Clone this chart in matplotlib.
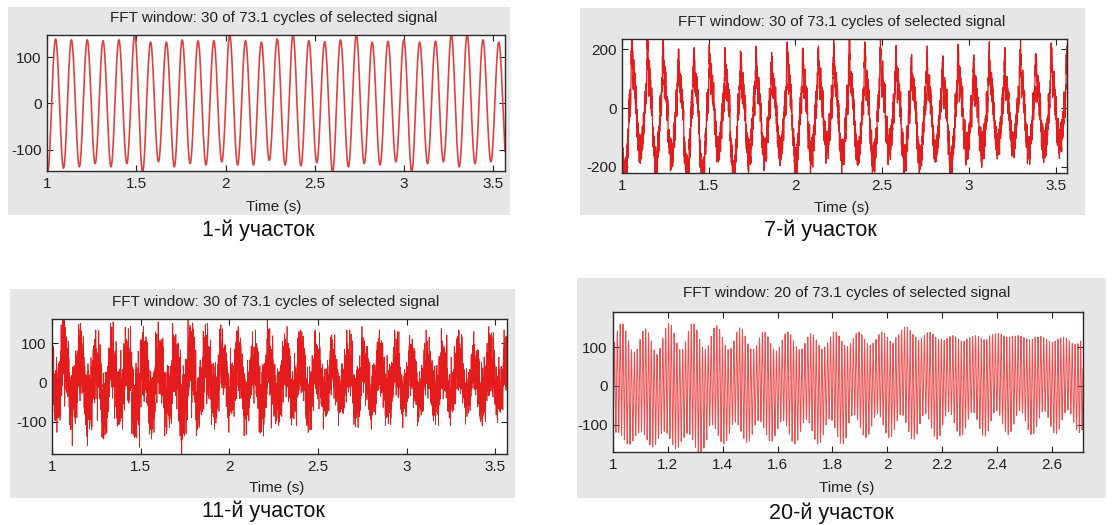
import numpy as np
import matplotlib
matplotlib.use("Agg")
import matplotlib.pyplot as plt
from matplotlib.patches import Rectangle

plt.rcParams['font.family'] = ['Liberation Sans', 'DejaVu Sans']

W, H = 1112, 525

# ---------------- data ----------------
TITLES = ["FFT window: 30 of 73.1 cycles of selected signal",
          "FFT window: 30 of 73.1 cycles of selected signal",
          "FFT window: 30 of 73.1 cycles of selected signal",
          "FFT window: 20 of 73.1 cycles of selected signal"]
CAPTIONS = ["1-й участок", "7-й участок", "11-й участок", "20-й участок"]
XLABEL = "Time (s)"

X_TICKS_A = [1, 1.5, 2, 2.5, 3, 3.5]
X_TICKLABELS_A = ["1", "1.5", "2", "2.5", "3", "3.5"]
X_TICKS_B = [1, 1.2, 1.4, 1.6, 1.8, 2, 2.2, 2.4, 2.6]
X_TICKLABELS_B = ["1", "1.2", "1.4", "1.6", "1.8", "2", "2.2", "2.4", "2.6"]
Y_TICKS_100 = [-100, 0, 100]
Y_TICKS_200 = [-200, 0, 200]

XLIM_A = (1.0, 3.565)
XLIM_B = (1.0, 2.713)
YLIM_1 = (-146, 147.5)
YLIM_2 = (-221, 235)
YLIM_3 = (-182, 162)
YLIM_4 = (-171, 191)

# panel 1: pure sinusoid, per-cycle peaks / troughs
P1_F0 = 11.28
P1_T_PEAK = 1.048
P1_PEAKS = [139, 137, 137, 135, 137, 148, 132, 132, 137, 135, 135, 148, 135, 132,
            139, 148, 135, 133, 137, 148, 132, 134, 137, 132, 134, 148, 148, 137, 132, 140]
P1_TROUGHS = [-148, -140, -137, -130, -137, -130, -148, -126, -137, -130, -133, -126, -133, -133, -123,
              -133, -135, -128, -148, -137, -130, -133, -126, -148, -130, -126, -137, -130, -126, -133]

# panel 2: spiky distorted wave, harmonic content + high-frequency ripple
P2_F0 = 11.17
P2_T_PEAK = 1.057
P2_TROUGH_PHASE = 0.53
P2_HARM_N = [1, 2, 3, 4, 5, 6, 7]
P2_HARM_A = [1.0, 0.18, 0.13, 0.13, 0.13, 0.13, 0.13]
P2_HARM_P = [-0.31, -0.4, 0.0, 0.0, 0.0, 0.0, 0.0]
P2_PEAKS = [240, 220, 223, 175, 186, 177, 164, 175, 175, 158, 198, 177, 181, 209,
            203, 203, 211, 181, 153, 164, 141, 186, 164, 186, 158, 198, 175, 209, 181, 190]
P2_TROUGHS = [-228, -141, -198, -175, -228, -228, -153, -228, -175, -164, -158, -181, -164, -136, -170,
              -170, -181, -147, -181, -187, -153, -203, -153, -153, -141, -124, -153, -141, -136, -150]
P2_RIPPLE_F = [87.0, 143.0, 311.0, 467.0, 619.0, 773.0]
P2_RIPPLE_A = [12, 14, 16, 15, 13, 11]
P2_RIPPLE_P = [0.7, 2.1, 4.0, 1.3, 5.5, 3.2]

# panel 3: fundamental buried in strong high-frequency content
P3_F0 = 11.25
P3_COMP_F = [11.25, 33.75, 71.3, 118.6, 163.2, 409.7, 523.1, 657.9, 791.3, 913.7]
P3_COMP_A = [55, 15, 22, 20, 18, 24, 22, 20, 18, 16]
P3_COMP_P = [-0.3, 1.2, 0.4, 2.3, 4.1, 1.7, 5.2, 3.0, 0.9, 2.6]
P3_TOPS = [165, 151, 134, 155, 143, 143, 155, 151, 165, 151, 147, 143, 134, 165, 143,
           134, 134, 122, 134, 143, 134, 134, 130, 134, 138, 134, 130, 143, 134, 117]
P3_BOTTOMS = [-127, -161, -161, -144, -119, -165, -144, -136, -185, -136, -119, -127, -136, -136, -110,
              -110, -127, -119, -110, -115, -119, -110, -115, -110, -110, -110, -106, -110, -102, -60]

# panel 4: dense carrier with slow envelope
P4_F0 = 11.68
P4_COMP_F = [11.68, 96.5, 107.9]
P4_COMP_A = [20, 110, 16]
P4_COMP_P = [0.0, 0.0, 1.1]
P4_TOPS = [160, 148, 162, 160, 156, 150, 139, 140, 135, 139, 139, 139, 152, 139, 130, 130, 135, 130, 128, 126]
P4_BOTTOMS = [-151, -158, -162, -175, -150, -146, -143, -150, -150, -150, -134, -134, -138, -138, -130,
              -130, -126, -126, -124, -121]

# ---------------- signal assembly ----------------
def harmonic_sum(u, ns, amps, phases):
    return sum(a * np.cos(2 * np.pi * n * u + p) for n, a, p in zip(ns, amps, phases))


def tone_sum(t, freqs, amps, phases):
    return sum(a * np.cos(2 * np.pi * f * t + p) for f, a, p in zip(freqs, amps, phases))


def lobe_scaled(t, f0, t_peak, base, peaks, troughs, trough_phase):
    u = (t - t_peak) * f0
    b = base(u)
    g = base(np.linspace(0, 1, 4001))
    bp = np.where(b >= 0, b / g.max(), 0.0)
    bn = np.where(b < 0, b / -g.min(), 0.0)
    kp = np.clip(np.round(u).astype(int), 0, len(peaks) - 1)
    kn = np.clip(np.round(u - trough_phase).astype(int) + 1, 0, len(troughs) - 1)
    return bp * np.asarray(peaks)[kp] - bn * np.asarray(troughs)[kn]


def cycle_envelope(t, raw, t0, f0, tops, bottoms):
    k = np.clip(((t - t0) * f0).astype(int), 0, len(tops) - 1)
    y = raw.copy()
    for i in range(len(tops)):
        m = k == i
        if not m.any():
            continue
        seg = raw[m]
        mx = seg.max() if seg.max() > 0 else 1.0
        mn = seg.min() if seg.min() < 0 else -1.0
        y[m] = np.where(seg >= 0, seg * tops[i] / mx, seg * bottoms[i] / mn)
    return y


t1 = np.linspace(XLIM_A[0], XLIM_A[1], 3000)
y1 = lobe_scaled(t1, P1_F0, P1_T_PEAK, lambda u: np.cos(2 * np.pi * u),
                 P1_PEAKS, P1_TROUGHS, 0.5)

t2 = np.linspace(XLIM_A[0], XLIM_A[1], 30000)
y2 = lobe_scaled(t2, P2_F0, P2_T_PEAK,
                 lambda u: harmonic_sum(u, P2_HARM_N, P2_HARM_A, P2_HARM_P),
                 P2_PEAKS, P2_TROUGHS, P2_TROUGH_PHASE)
y2 = y2 + tone_sum(t2, P2_RIPPLE_F, P2_RIPPLE_A, P2_RIPPLE_P)

t3 = np.linspace(XLIM_A[0], XLIM_A[1], 40000)
raw3 = tone_sum(t3, P3_COMP_F, P3_COMP_A, P3_COMP_P)
y3 = cycle_envelope(t3, raw3, XLIM_A[0], P3_F0, P3_TOPS, P3_BOTTOMS)

t4 = np.linspace(XLIM_B[0], XLIM_B[1], 12000)
raw4 = tone_sum(t4, P4_COMP_F, P4_COMP_A, P4_COMP_P)
y4 = cycle_envelope(t4, raw4, XLIM_B[0], P4_F0, P4_TOPS, P4_BOTTOMS)

# ---------------- figure ----------------
fig = plt.figure(figsize=(W / 100, H / 100), dpi=100)
fig.patch.set_facecolor('white')

GRAY = '#e4e6e7'


def px_rect(l, t, r, b):
    return [l / W, 1 - b / H, (r - l) / W, (b - t) / H]


def gray_box(l, t, r, b):
    x, y, w, h = px_rect(l, t, r, b)
    fig.add_artist(Rectangle((x, y), w, h, transform=fig.transFigure,
                             facecolor=GRAY, edgecolor='none', zorder=0))


def ftext(x, y, s, size, **kw):
    fig.text(x / W, 1 - y / H, s, ha='center', va='center', fontsize=size, **kw)


panels = [
    dict(box=(8, 7, 510, 215), ax=(47, 35, 505, 171), t=t1, y=y1, xlim=XLIM_A, ylim=YLIM_1,
         xt=X_TICKS_A, xtl=X_TICKLABELS_A, yt=Y_TICKS_100, color='#e24040', lw=1.2, alpha=1.0,
         title=(274, 18), xlab=(274, 207), cap=(258, 230)),
    dict(box=(580, 8, 1085, 215), ax=(622, 39, 1067, 173), t=t2, y=y2, xlim=XLIM_A, ylim=YLIM_2,
         xt=X_TICKS_A, xtl=X_TICKLABELS_A, yt=Y_TICKS_200, color='#e41c1c', lw=0.9, alpha=1.0,
         title=(842, 22), xlab=(842, 208), cap=(820, 230)),
    dict(box=(10, 289, 515, 498), ax=(52, 319, 507, 454), t=t3, y=y3, xlim=XLIM_A, ylim=YLIM_3,
         xt=X_TICKS_A, xtl=X_TICKLABELS_A, yt=Y_TICKS_100, color='#e41c1c', lw=0.55, alpha=1.0,
         title=(276, 302), xlab=(277, 488), cap=(263, 511)),
    dict(box=(577, 278, 1106, 498), ax=(613, 312, 1083, 452), t=t4, y=y4, xlim=XLIM_B, ylim=YLIM_4,
         xt=X_TICKS_B, xtl=X_TICKLABELS_B, yt=Y_TICKS_100, color='#ea3030', lw=0.7, alpha=0.85,
         title=(847, 293), xlab=(847, 488), cap=(831, 513)),
]

for i, p in enumerate(panels):
    gray_box(*p['box'])
    ax = fig.add_axes(px_rect(*p['ax']))
    ax.set_zorder(2)
    ax.set_facecolor('white')
    ax.plot(p['t'], p['y'], color=p['color'], lw=p['lw'], alpha=p['alpha'])
    ax.set_xlim(*p['xlim'])
    ax.set_ylim(*p['ylim'])
    ax.set_xticks(p['xt'])
    ax.set_xticklabels(p['xtl'])
    ax.set_yticks(p['yt'])
    ax.set_yticklabels([str(v) for v in p['yt']])
    ax.tick_params(direction='in', top=True, right=True, length=4, width=0.8,
                   labelsize=11, colors='#222222', pad=4)
    for s in ax.spines.values():
        s.set_color('#2a2a2a')
        s.set_linewidth(1.0)
    ftext(*p['title'], TITLES[i], 11, color='#222222')
    ftext(*p['xlab'], XLABEL, 11, color='#222222')
    ftext(*p['cap'], CAPTIONS[i], 15.5, color='#111111')

fig.savefig('out.png', dpi=100, facecolor='white')
